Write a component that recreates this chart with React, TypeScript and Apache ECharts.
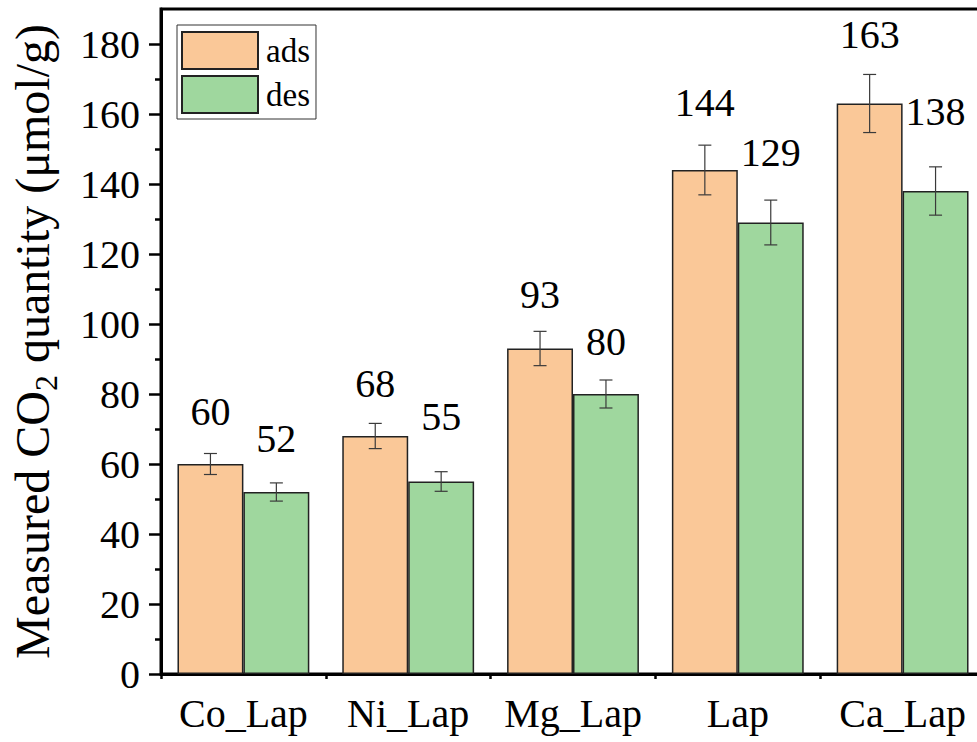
import React, { useEffect, useRef } from "react";
import * as echarts from "echarts";

const categories = ["Co_Lap", "Ni_Lap", "Mg_Lap", "Lap", "Ca_Lap"];
const adsValues = [60, 68, 93, 144, 163];
const desValues = [52, 55, 80, 129, 138];
const adsErrors = [3.0, 3.6, 4.9, 7.1, 8.3];
const desErrors = [2.6, 2.8, 4.0, 6.4, 6.9];
const majorTicks = [0, 20, 40, 60, 80, 100, 120, 140, 160, 180];
const minorTicks = [10, 30, 50, 70, 90, 110, 130, 150, 170];

// label distances above bar tops (styling, px)
const adsLabelDist = [33, 33, 34, 48, 49];
const desLabelDist = [34, 45, 33, 50, 60];

const FONT = "Liberation Serif";
const ADS_COLOR = "#FAC898";
const DES_COLOR = "#9FD79E";

function errorSeries(name: string, values: number[], errs: number[], side: number) {
  return {
    type: "custom",
    name,
    xAxisIndex: 0,
    yAxisIndex: 0,
    z: 10,
    silent: true,
    data: values.map((v, i) => [i, v, errs[i]]),
    renderItem: (params: any, api: any) => {
      const i = api.value(0);
      const v = api.value(1);
      const e = api.value(2);
      const band = api.size([1, 0])[0];
      const top = api.coord([i, v + e]);
      const bot = api.coord([i, v - e]);
      const x = top[0] + side * band * 0.2;
      const cap = 6.5;
      const st = { stroke: "#3a3a3a", lineWidth: 1.2 };
      return {
        type: "group",
        children: [
          { type: "line", shape: { x1: x, y1: top[1], x2: x, y2: bot[1] }, style: st },
          { type: "line", shape: { x1: x - cap, y1: top[1], x2: x + cap, y2: top[1] }, style: st },
          { type: "line", shape: { x1: x - cap, y1: bot[1], x2: x + cap, y2: bot[1] }, style: st },
        ],
      };
    },
  };
}

export default function App() {
  const ref = useRef<HTMLDivElement>(null);
  useEffect(() => {
    if (!ref.current) return;
    const chart = echarts.init(ref.current, null, { renderer: "svg" });
    const option: any = {
      animation: false,
      backgroundColor: "#ffffff",
      textStyle: { fontFamily: FONT, color: "#000" },
      grid: {
        left: 160,
        top: 9,
        right: 15,
        bottom: 68,
        show: true,
        borderColor: "#000",
        borderWidth: 3,
        backgroundColor: "transparent",
      },
      legend: {
        data: ["ads", "des"],
        orient: "vertical",
        left: 177,
        top: 25,
        icon: "rect",
        itemWidth: 76,
        itemHeight: 37,
        itemGap: 5,
        padding: [6, 6, 5, 4],
        borderColor: "#333",
        borderWidth: 1,
        textStyle: { fontFamily: FONT, fontSize: 33, color: "#000", padding: [0, 0, 0, 3] },
      },
      xAxis: [
        {
          type: "category",
          data: categories,
          axisLine: { lineStyle: { color: "#000", width: 3 } },
          axisTick: { alignWithLabel: true, length: 12, lineStyle: { color: "#000", width: 2.5 } },
          axisLabel: { interval: 0, fontFamily: FONT, fontSize: 40, color: "#000", margin: 19 },
        },
        {
          type: "category",
          data: categories,
          position: "bottom",
          axisLine: { show: false },
          axisTick: { show: true, length: 5, lineStyle: { color: "#000", width: 2.5 } },
          axisLabel: { show: false },
        },
      ],
      yAxis: [
        {
          type: "value",
          min: 0,
          max: 190,
          interval: 20,
          splitLine: { show: false },
          axisLine: { show: true, lineStyle: { color: "#000", width: 3 } },
          axisTick: { show: true, length: 12, customValues: majorTicks, lineStyle: { color: "#000", width: 2.5 } },
          axisLabel: { fontFamily: FONT, fontSize: 40, color: "#000", margin: 21, customValues: majorTicks },
          name: "{a|Measured CO}{s|2}{a| quantity (μmol/g)}",
          nameLocation: "middle",
          nameRotate: 90,
          nameGap: 99,
          nameTextStyle: {
            fontFamily: FONT,
            color: "#000",
            rich: {
              a: { fontFamily: FONT, fontSize: 48, lineHeight: 60, color: "#000" },
              s: { fontFamily: FONT, fontSize: 32, lineHeight: 26, verticalAlign: "bottom", color: "#000" },
            },
          },
        },
        {
          type: "value",
          min: 0,
          max: 190,
          interval: 10,
          position: "left",
          splitLine: { show: false },
          axisLine: { show: false },
          axisTick: { show: true, length: 6, customValues: minorTicks, lineStyle: { color: "#000", width: 2.5 } },
          axisLabel: { show: false },
        },
      ],
      series: [
        {
          type: "bar",
          name: "ads",
          xAxisIndex: 0,
          yAxisIndex: 0,
          barGap: "0%",
          barCategoryGap: "20%",
          itemStyle: { color: ADS_COLOR, borderColor: "#222", borderWidth: 1.5 },
          label: { show: true, position: "top", fontFamily: FONT, fontSize: 40, color: "#000" },
          data: adsValues.map((v, i) => ({ value: v, label: { distance: adsLabelDist[i] } })),
        },
        {
          type: "bar",
          name: "des",
          xAxisIndex: 0,
          yAxisIndex: 0,
          barGap: "0%",
          barCategoryGap: "20%",
          itemStyle: { color: DES_COLOR, borderColor: "#222", borderWidth: 1.5 },
          label: { show: true, position: "top", fontFamily: FONT, fontSize: 40, color: "#000" },
          data: desValues.map((v, i) => ({ value: v, label: { distance: desLabelDist[i] } })),
        },
        errorSeries("adsErr", adsValues, adsErrors, -1),
        errorSeries("desErr", desValues, desErrors, 1),
      ],
    };
    chart.setOption(option);
    return () => chart.dispose();
  }, []);
  return (
    <div style={{ position: "fixed", left: 0, top: 0, width: 977, height: 742, overflow: "hidden", background: "#fff" }}>
      <div ref={ref} style={{ width: 1000, height: 742 }} />
    </div>
  );
}
